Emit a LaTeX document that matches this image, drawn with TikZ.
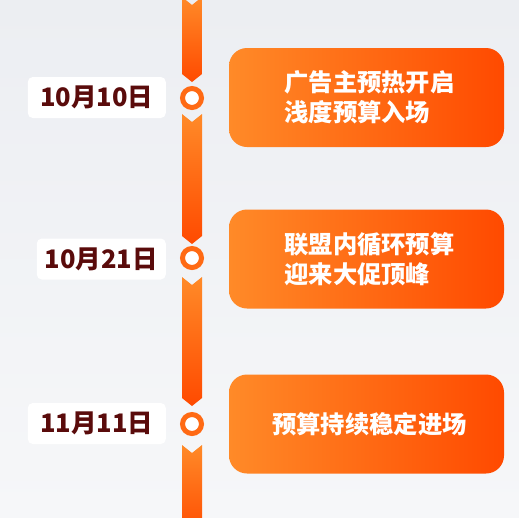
\documentclass[tikz,border=0pt]{standalone}
\usepackage{fontspec}
\setmainfont{Noto Sans CJK SC}
\usepackage{tikz}
\usetikzlibrary{calc}
\definecolor{tbgtop}{HTML}{ECEEF2}
\definecolor{tbgbot}{HTML}{F6F7F9}
\definecolor{olite}{HTML}{FF8A28}
\definecolor{odeep}{HTML}{FF4A00}
\definecolor{oring}{HTML}{FF6A14}
\definecolor{tdate}{HTML}{5A0B0B}
\tikzset{
  datebox/.style={rectangle, rounded corners=5pt, fill=white, anchor=east,
                  minimum height=41pt, inner sep=0pt,
                  font=\fontsize{25.5}{30}\selectfont\bfseries, text=tdate},
  card/.style   ={rectangle, rounded corners=18pt, left color=olite, right color=odeep,
                  minimum width=275pt, minimum height=99pt, align=left, inner sep=0pt,
                  text=white, font=\fontsize{24.3}{29.5}\selectfont\bfseries},
  dot/.style    ={circle, draw=oring, line width=5pt, fill=white,
                  minimum size=19pt, inner sep=0pt},
  seg/.style    ={top color=olite, bottom color=odeep}
}
% one piece of the timeline: notch on top, point at the bottom
\newcommand\tlseg[2]{%
  \shade[seg] (182,#1) -- (192,#1+8) -- (202,#1) -- (202,#2)
    -- (192,#2+8) -- (182,#2) -- cycle;}

\begin{document}
\begin{tikzpicture}[x=1pt, y=-1pt]
\shade[top color=tbgtop, bottom color=tbgbot] (0,0) rectangle (519,517);
\useasboundingbox (0,0) rectangle (519,517);

% timeline
\tlseg{-3}{74}
\tlseg{114}{236}
\tlseg{277}{398}
\tlseg{445}{530}

\node[dot] (d1) at (192,98)  {};
\node[dot] (d2) at (192,258) {};
\node[dot] (d3) at (192,424) {};

% dates
\node[datebox, minimum width=138pt] (t1) at (166,97.5) {10月10日};
\node[datebox, minimum width=129pt] (t2) at (166,259)  {10月21日};
\node[datebox, minimum width=138pt] (t3) at (166,423.5) {11月11日};

% events
\node[card] (c1) at (366.5,97.5) {\hspace*{6pt}广告主预热开启\\\hspace*{6pt}浅度预算入场};
\node[card] (c2) at (366.5,259)  {\hspace*{6pt}联盟内循环预算\\\hspace*{6pt}迎来大促顶峰};
\node[card] (c3) at (366.5,424)  {\hspace*{6pt}预算持续稳定进场};
\end{tikzpicture}
\end{document}
